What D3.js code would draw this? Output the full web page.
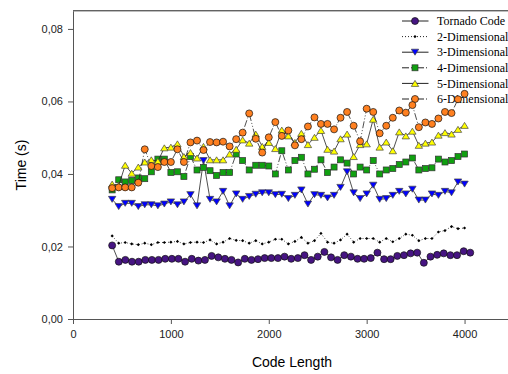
<!DOCTYPE html>
<html>
<head>
<meta charset="utf-8">
<script src="https://cdn.jsdelivr.net/npm/d3@7"></script>
<style>
  body { margin: 0; background: #fff; }
  svg { display: block; }
  .tick text { font-family: "Liberation Sans", Arial, sans-serif; font-size: 11px; fill: #222; }
  .axis path, .axis line { stroke: #555; }
</style>
</head>
<body>
<script>
const width = 508;
const height = 374;

// code lengths (x)
const codeLength = [400, 467, 533, 600, 667, 733, 800, 867, 933, 1000, 1067, 1133, 1200, 1267, 1333,
  1400, 1467, 1533, 1600, 1667, 1733, 1800, 1867, 1933, 2000, 2067, 2133, 2200, 2267, 2333, 2400,
  2467, 2533, 2600, 2667, 2733, 2800, 2867, 2933, 3000, 3067, 3133, 3200, 3267, 3333, 3400, 3467,
  3533, 3600, 3667, 3733, 3800, 3867, 3933, 4000];
const tornadoLength = [400, 468, 535, 603, 671, 739, 806, 874, 942, 1010, 1077, 1145, 1213, 1281,
  1348, 1416, 1484, 1552, 1619, 1687, 1755, 1823, 1890, 1958, 2026, 2094, 2161, 2229, 2297, 2365,
  2432, 2500, 2568, 2636, 2703, 2771, 2839, 2907, 2974, 3042, 3110, 3178, 3245, 3313, 3381, 3449,
  3516, 3584, 3652, 3720, 3787, 3855, 3923, 3991, 4058];

const tornado = [0.0203, 0.0158, 0.0163, 0.0158, 0.0158, 0.0163, 0.0163, 0.0163, 0.0166, 0.0166,
  0.0166, 0.0158, 0.0166, 0.0161, 0.0163, 0.0174, 0.0170, 0.0166, 0.0163, 0.0156,
  0.0166, 0.0163, 0.0165, 0.0168, 0.0168, 0.0168, 0.0172, 0.0166, 0.0168, 0.0176,
  0.0163, 0.0172, 0.0185, 0.0170, 0.0163, 0.0176, 0.0172, 0.0166, 0.0166, 0.0168,
  0.0183, 0.0165, 0.0165, 0.0174, 0.0176, 0.0181, 0.0183, 0.0155, 0.0172, 0.0177,
  0.0181, 0.0176, 0.0176, 0.0187, 0.0183];
const dim2 = [0.0229, 0.0209, 0.0211, 0.0207, 0.0205, 0.0209, 0.0205, 0.0211, 0.0211, 0.0212,
  0.0214, 0.0207, 0.0211, 0.0212, 0.0211, 0.0218, 0.0207, 0.0212, 0.0222, 0.0217,
  0.0216, 0.0209, 0.0216, 0.0207, 0.0212, 0.0220, 0.0220, 0.0207, 0.0214, 0.0225,
  0.0209, 0.0216, 0.0236, 0.0212, 0.0209, 0.0218, 0.0234, 0.0212, 0.0222, 0.0222,
  0.0222, 0.0212, 0.0222, 0.0213, 0.0222, 0.0234, 0.0231, 0.0216, 0.0222, 0.0222,
  0.0240, 0.0244, 0.0255, 0.0249, 0.0251];
const dim3 = [0.0330, 0.0310, 0.0319, 0.0319, 0.0310, 0.0315, 0.0315, 0.0312, 0.0317, 0.0323,
  0.0315, 0.0323, 0.0343, 0.0312, 0.0437, 0.0330, 0.0323, 0.0352, 0.0312, 0.0345,
  0.0330, 0.0338, 0.0344, 0.0348, 0.0348, 0.0343, 0.0344, 0.0332, 0.0341, 0.0356,
  0.0317, 0.0343, 0.0341, 0.0334, 0.0341, 0.0363, 0.0406, 0.0348, 0.0332, 0.0345,
  0.0369, 0.0330, 0.0332, 0.0341, 0.0352, 0.0345, 0.0358, 0.0328, 0.0328, 0.0345,
  0.0341, 0.0352, 0.0348, 0.0378, 0.0372];
const dim4 = [0.0356, 0.0384, 0.0378, 0.0382, 0.0389, 0.0387, 0.0406, 0.0441, 0.0441, 0.0404,
  0.0406, 0.0393, 0.0448, 0.0411, 0.0418, 0.0409, 0.0396, 0.0404, 0.0404, 0.0455,
  0.0437, 0.0411, 0.0424, 0.0424, 0.0422, 0.0400, 0.0464, 0.0411, 0.0437, 0.0446,
  0.0400, 0.0413, 0.0439, 0.0404, 0.0419, 0.0439, 0.0430, 0.0400, 0.0419, 0.0411,
  0.0437, 0.0400, 0.0411, 0.0415, 0.0426, 0.0433, 0.0444, 0.0411, 0.0415, 0.0417,
  0.0441, 0.0433, 0.0437, 0.0448, 0.0455];
const dim5 = [0.0372, 0.0368, 0.0424, 0.0402, 0.0419, 0.0433, 0.0439, 0.0435, 0.0472, 0.0474,
  0.0483, 0.0448, 0.0459, 0.0444, 0.0476, 0.0439, 0.0439, 0.0439, 0.0455, 0.0468,
  0.0494, 0.0485, 0.0510, 0.0476, 0.0487, 0.0470, 0.0521, 0.0505, 0.0487, 0.0512,
  0.0481, 0.0501, 0.0520, 0.0468, 0.0463, 0.0497, 0.0510, 0.0448, 0.0481, 0.0483,
  0.0551, 0.0474, 0.0488, 0.0464, 0.0516, 0.0505, 0.0518, 0.0479, 0.0485, 0.0488,
  0.0507, 0.0514, 0.0510, 0.0523, 0.0534];
const dim6 = [0.0361, 0.0363, 0.0363, 0.0363, 0.0376, 0.0468, 0.0422, 0.0419, 0.0433, 0.0433,
  0.0468, 0.0433, 0.0487, 0.0492, 0.0466, 0.0488, 0.0487, 0.0489, 0.0476, 0.0496,
  0.0514, 0.0567, 0.0497, 0.0459, 0.0501, 0.0543, 0.0505, 0.0520, 0.0479, 0.0496,
  0.0531, 0.0556, 0.0538, 0.0538, 0.0523, 0.0555, 0.0571, 0.0533, 0.0490, 0.0580,
  0.0571, 0.0512, 0.0533, 0.0555, 0.0575, 0.0569, 0.0590, 0.0529, 0.0542, 0.0538,
  0.0553, 0.0571, 0.0568, 0.0606, 0.0621];

const seriesNames = ["Tornado Code", "2-Dimensional", "3-Dimensional", "4-Dimensional", "5-Dimensional", "6-Dimensional"];

const xTicks = [0, 1000, 2000, 3000, 4000];
const yTicks = [0, 0.02, 0.04, 0.06, 0.08];
const yTickLabels = ["0,00", "0,02", "0,04", "0,06", "0,08"];

let series = [
  { name: seriesNames[0], xs: tornadoLength, ys: tornado, shape: "circle", fill: "#461482", dash: null },
  { name: seriesNames[1], xs: codeLength, ys: dim2, shape: "dot", fill: "#000", dash: "1,2" },
  { name: seriesNames[2], xs: codeLength, ys: dim3, shape: "down", fill: "#0000ff", dash: null },
  { name: seriesNames[3], xs: codeLength, ys: dim4, shape: "square", fill: "#10a010", dash: "7,2,1,2,1,2" },
  { name: seriesNames[4], xs: codeLength, ys: dim5, shape: "up", fill: "#ffff00", dash: null },
  { name: seriesNames[5], xs: codeLength, ys: dim6, shape: "circle", fill: "#ff8020", dash: "7,2,1,2,1,2" },
];

let svg = d3
  .select("body")
  .append("svg")
  .attr("width", width)
  .attr("height", height);

let x = d3.scaleLinear().domain([0, 4500]).range([73, 513.5]);
let y = d3.scaleLinear().domain([0, 0.085]).range([319, 10.8]);

// frame top line
svg
  .append("line")
  .attr("x1", x(0))
  .attr("x2", x(4500))
  .attr("y1", y(0.085))
  .attr("y2", y(0.085))
  .attr("stroke", "#222")
  .attr("stroke-width", 1);

let xAxis = d3.axisBottom(x).tickValues(xTicks).tickFormat(d3.format("d")).tickSize(5).tickSizeOuter(0).tickPadding(6);
let yAxis = d3
  .axisLeft(y)
  .tickValues(yTicks)
  .tickFormat((d, i) => yTickLabels[i])
  .tickSize(5)
  .tickSizeOuter(0)
  .tickPadding(5);

svg.append("g").attr("class", "axis").attr("transform", `translate(0, ${y(0)})`).call(xAxis);
svg.append("g").attr("class", "axis").attr("transform", `translate(${x(0)}, 0)`).call(yAxis);

svg
  .append("text")
  .attr("x", 292)
  .attr("y", 367)
  .attr("text-anchor", "middle")
  .style("font-family", "Liberation Sans, Arial, sans-serif")
  .style("font-size", "14px")
  .text("Code Length");

svg
  .append("text")
  .attr("transform", "translate(26, 165) rotate(-90)")
  .attr("text-anchor", "middle")
  .style("font-family", "Liberation Sans, Arial, sans-serif")
  .style("font-size", "14px")
  .text("Time (s)");

function drawMarker(g, s, cx, cy) {
  if (s.shape === "circle") {
    g.append("circle").attr("cx", cx).attr("cy", cy).attr("r", 3.5)
      .attr("fill", s.fill).attr("stroke", "#111").attr("stroke-width", 0.7);
  } else if (s.shape === "dot") {
    g.append("path").attr("d", `M${cx - 1.6},${cy}L${cx},${cy - 1.6}L${cx + 1.6},${cy}L${cx},${cy + 1.6}Z`)
      .attr("fill", "#000");
  } else if (s.shape === "square") {
    g.append("rect").attr("x", cx - 3).attr("y", cy - 3).attr("width", 6).attr("height", 6)
      .attr("fill", s.fill).attr("stroke", "#333").attr("stroke-width", 0.7);
  } else {
    let h = 3;
    let sgn = s.shape === "down" ? 1 : -1;
    g.append("path")
      .attr("d", `M${cx - 3.7},${cy - sgn * h}L${cx + 3.7},${cy - sgn * h}L${cx},${cy + sgn * h}Z`)
      .attr("fill", s.fill).attr("stroke", "#444").attr("stroke-width", 0.7);
  }
}

// legend
let legend = svg.append("g");
series.forEach((s, i) => {
  let ly = 21 + i * 15.6;
  legend.append("line").attr("x1", 402).attr("x2", 428.5).attr("y1", ly).attr("y2", ly)
    .attr("stroke", "#222").attr("stroke-width", 1).attr("stroke-dasharray", s.dash);
  drawMarker(legend, s, 415, ly);
  legend.append("text").attr("x", 437).attr("y", ly).attr("dy", "0.35em")
    .style("font-family", "Liberation Serif, Times New Roman, serif")
    .style("font-size", "12px")
    .text(s.name);
});

let line = d3.line().x((d) => x(d[0])).y((d) => y(d[1]));

series.forEach((s) => {
  let pts = s.xs.map((v, i) => [v, s.ys[i]]);
  let g = svg.append("g");
  g.append("path")
    .attr("d", line(pts))
    .attr("fill", "none")
    .attr("stroke", "#222")
    .attr("stroke-width", 0.8)
    .attr("stroke-dasharray", s.dash);
  pts.forEach((p) => drawMarker(g, s, x(p[0]), y(p[1])));
});
</script>
</body>
</html>
